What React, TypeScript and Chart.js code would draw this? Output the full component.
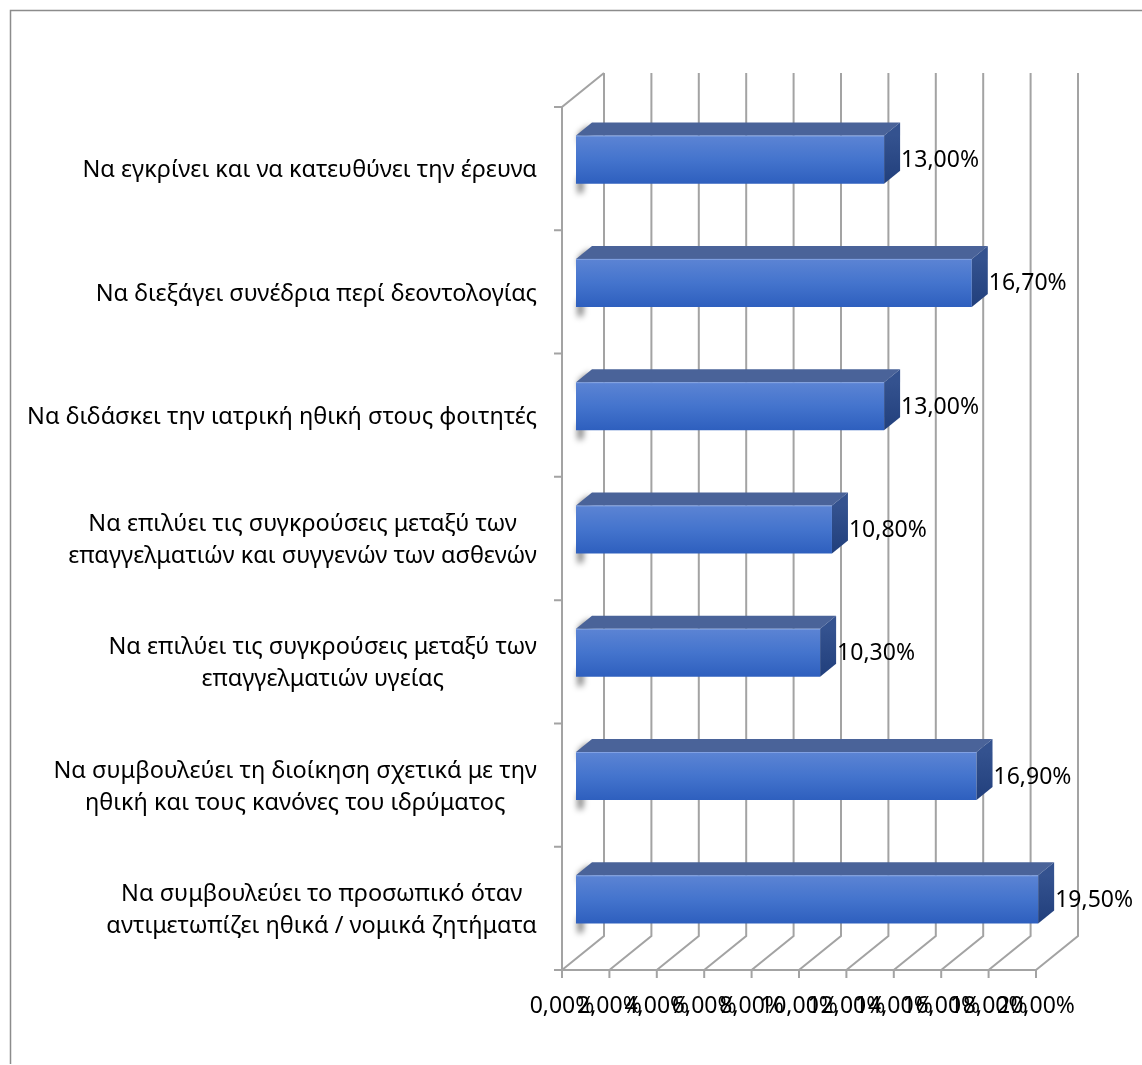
import React, { useEffect, useRef } from "react";
import { Chart, registerables } from "chart.js";

Chart.register(...registerables);

const categories: string[][] = [
  ["Να εγκρίνει και να κατευθύνει την έρευνα"],
  ["Να διεξάγει συνέδρια περί δεοντολογίας"],
  ["Να διδάσκει την ιατρική ηθική στους φοιτητές"],
  ["Να επιλύει τις συγκρούσεις μεταξύ των", "επαγγελματιών και συγγενών των ασθενών"],
  ["Να επιλύει τις συγκρούσεις μεταξύ των", "επαγγελματιών υγείας"],
  ["Να συμβουλεύει τη διοίκηση σχετικά με την", "ηθική και τους κανόνες του ιδρύματος"],
  ["Να συμβουλεύει το προσωπικό όταν", "αντιμετωπίζει ηθικά / νομικά ζητήματα"],
];
const values: number[] = [13.0, 16.7, 13.0, 10.8, 10.3, 16.9, 19.5];
const xTicks: number[] = [0, 2, 4, 6, 8, 10, 12, 14, 16, 18, 20];

const W = 1142;
const H = 1065;
const DEPTH_X = 42;
const DEPTH_Y = 34;
const BAR_OFF_X = 14;
const BAR_OFF_Y = -9;
const BAR_DX = 16;
const BAR_DY = -13;
const BAR_PCT = 0.39;
const FONT = '"Noto Sans", sans-serif';
const LABEL_SIZE = 23.5;
const VALUE_SIZE = 23;
const GRID = "#a3a3a3";

const fmt = (v: number) => v.toFixed(2).replace(".", ",") + "%";

const threeD = {
  id: "threeD",
  beforeDraw(chart: any) {
    const ctx = chart.ctx;
    ctx.save();
    ctx.fillStyle = "#ffffff";
    ctx.fillRect(0, 0, W, H);
    ctx.strokeStyle = "#8c8c8c";
    ctx.lineWidth = 1.5;
    ctx.beginPath();
    ctx.moveTo(10.5, H - 1);
    ctx.lineTo(10.5, 10.5);
    ctx.lineTo(W, 10.5);
    ctx.stroke();
    ctx.restore();
  },
  beforeDatasetsDraw(chart: any) {
    const ctx = chart.ctx;
    const xs = chart.scales.x;
    const ys = chart.scales.y;
    const a = chart.chartArea;
    ctx.save();
    ctx.strokeStyle = GRID;
    ctx.lineWidth = 2;
    ctx.lineCap = "butt";
    ctx.beginPath();
    xTicks.forEach((v) => {
      const x = xs.getPixelForValue(v);
      ctx.moveTo(x + DEPTH_X, a.top - DEPTH_Y);
      ctx.lineTo(x + DEPTH_X, a.bottom - DEPTH_Y);
      ctx.lineTo(x, a.bottom);
      ctx.moveTo(x, a.bottom);
      ctx.lineTo(x, a.bottom + 8);
    });
    ctx.moveTo(a.left - 8, a.bottom);
    ctx.lineTo(xs.getPixelForValue(20), a.bottom);
    ctx.moveTo(a.left, a.bottom);
    ctx.lineTo(a.left, a.top);
    ctx.lineTo(a.left + DEPTH_X, a.top - DEPTH_Y);
    const step = ys.getPixelForValue(1) - ys.getPixelForValue(0);
    for (let i = 0; i <= categories.length; i++) {
      const y = ys.getPixelForValue(0) - step / 2 + i * step;
      ctx.moveTo(a.left - 8, y);
      ctx.lineTo(a.left, y);
    }
    ctx.stroke();

    const meta = chart.getDatasetMeta(0);
    meta.data.forEach((el: any) => {
      const p = el.getProps(["x", "y", "base", "height"], true);
      const top = p.y - p.height / 2 + BAR_OFF_Y;
      const bot = p.y + p.height / 2 + BAR_OFF_Y;
      const x0 = p.base + BAR_OFF_X;
      ctx.save();
      ctx.fillStyle = "rgba(0,0,0,0.6)";
      ctx.filter = "blur(3px)";
      ctx.beginPath();
      ctx.moveTo(x0 + 3, top - 2);
      ctx.lineTo(x0 + BAR_DX - 2, top + BAR_DY + 3);
      ctx.lineTo(x0 + BAR_DX - 2, top + 4);
      ctx.lineTo(x0 + 3, top + 8);
      ctx.closePath();
      ctx.fill();
      ctx.beginPath();
      ctx.moveTo(x0 + 2, bot - 6);
      ctx.lineTo(x0 + 7, bot - 8);
      ctx.lineTo(x0 + 7, bot + 8);
      ctx.lineTo(x0 + 2, bot + 10);
      ctx.closePath();
      ctx.fill();
      ctx.restore();
    });
    ctx.restore();

    ctx.save();
    ctx.translate(BAR_OFF_X, BAR_OFF_Y);
  },
  afterDatasetsDraw(chart: any) {
    const ctx = chart.ctx;
    const meta = chart.getDatasetMeta(0);
    meta.data.forEach((el: any) => {
      const p = el.getProps(["x", "y", "base", "height"], true);
      const top = p.y - p.height / 2;
      const bot = p.y + p.height / 2;
      const x0 = p.base;
      const x1 = p.x;
      ctx.beginPath();
      ctx.moveTo(x0, top);
      ctx.lineTo(x0 + BAR_DX, top + BAR_DY);
      ctx.lineTo(x1 + BAR_DX, top + BAR_DY);
      ctx.lineTo(x1, top);
      ctx.closePath();
      ctx.fillStyle = "#4a6399";
      ctx.fill();
      const g = ctx.createLinearGradient(0, top, 0, bot);
      g.addColorStop(0, "#34528f");
      g.addColorStop(1, "#213f7c");
      ctx.beginPath();
      ctx.moveTo(x1, top);
      ctx.lineTo(x1 + BAR_DX, top + BAR_DY);
      ctx.lineTo(x1 + BAR_DX, bot + BAR_DY);
      ctx.lineTo(x1, bot);
      ctx.closePath();
      ctx.fillStyle = g;
      ctx.fill();
      ctx.strokeStyle = "rgba(140,170,230,0.8)";
      ctx.lineWidth = 1;
      ctx.beginPath();
      ctx.moveTo(x0, top + 0.5);
      ctx.lineTo(x1, top + 0.5);
      ctx.stroke();
    });
    ctx.restore();

    ctx.save();
    ctx.fillStyle = "#000000";
    ctx.font = `${VALUE_SIZE}px ${FONT}`;
    ctx.textBaseline = "middle";
    ctx.textAlign = "left";
    meta.data.forEach((el: any, i: number) => {
      const p = el.getProps(["x", "y"], true);
      ctx.fillText(fmt(values[i]), p.x + BAR_OFF_X + BAR_DX + 1, p.y + BAR_OFF_Y + 1);
    });

    const ys = chart.scales.y;
    const rightEdge = 537;
    const lh = 32;
    ctx.font = `${LABEL_SIZE}px ${FONT}`;
    ctx.textAlign = "center";
    categories.forEach((lines, i) => {
      const cy = ys.getPixelForValue(i) + 2;
      const bw = Math.max(...lines.map((l) => ctx.measureText(l).width));
      const cx = rightEdge - bw / 2;
      lines.forEach((l, j) => {
        ctx.fillText(l, cx, cy + (j - (lines.length - 1) / 2) * lh);
      });
    });

    const xs = chart.scales.x;
    ctx.font = `${VALUE_SIZE}px ${FONT}`;
    xTicks.forEach((v) => {
      ctx.fillText(fmt(v), xs.getPixelForValue(v), 1006);
    });
    ctx.restore();
  },
};

export default function App() {
  const ref = useRef<HTMLCanvasElement | null>(null);
  useEffect(() => {
    if (!ref.current) return;
    const chart = new Chart(ref.current, {
      type: "bar",
      data: {
        labels: categories.map((c) => c.join(" ")),
        datasets: [
          {
            data: values,
            clip: false as any,
            barPercentage: BAR_PCT,
            categoryPercentage: 1,
            borderWidth: 0,
            backgroundColor: (c: any) => {
              const ch = c.chart;
              const ys = ch.scales && ch.scales.y;
              if (!ys || c.type !== "data") return "#4472c4";
              const step = ys.getPixelForValue(1) - ys.getPixelForValue(0);
              const cy = ys.getPixelForValue(c.dataIndex);
              const half = (step * BAR_PCT) / 2;
              if (!isFinite(cy) || !isFinite(half)) return "#4472c4";
              const g = ch.ctx.createLinearGradient(0, cy - half, 0, cy + half);
              g.addColorStop(0, "#5c84d4");
              g.addColorStop(0.5, "#4474cd");
              g.addColorStop(1, "#2e5fbe");
              return g;
            },
          },
        ],
      },
      options: {
        indexAxis: "y",
        responsive: false,
        animation: false,
        events: [],
        layout: { padding: { left: 562, right: W - 1036, top: 107, bottom: H - 970 } },
        plugins: { legend: { display: false }, tooltip: { enabled: false } },
        scales: {
          x: { display: false, min: 0, max: 20 },
          y: { display: false, offset: true },
        },
      },
      plugins: [threeD],
    });
    return () => chart.destroy();
  }, []);
  return (
    <div style={{ position: "fixed", left: 0, top: 0, width: W, height: H, background: "#fff" }}>
      <canvas ref={ref} width={W} height={H} style={{ width: W, height: H, display: "block" }} />
    </div>
  );
}
